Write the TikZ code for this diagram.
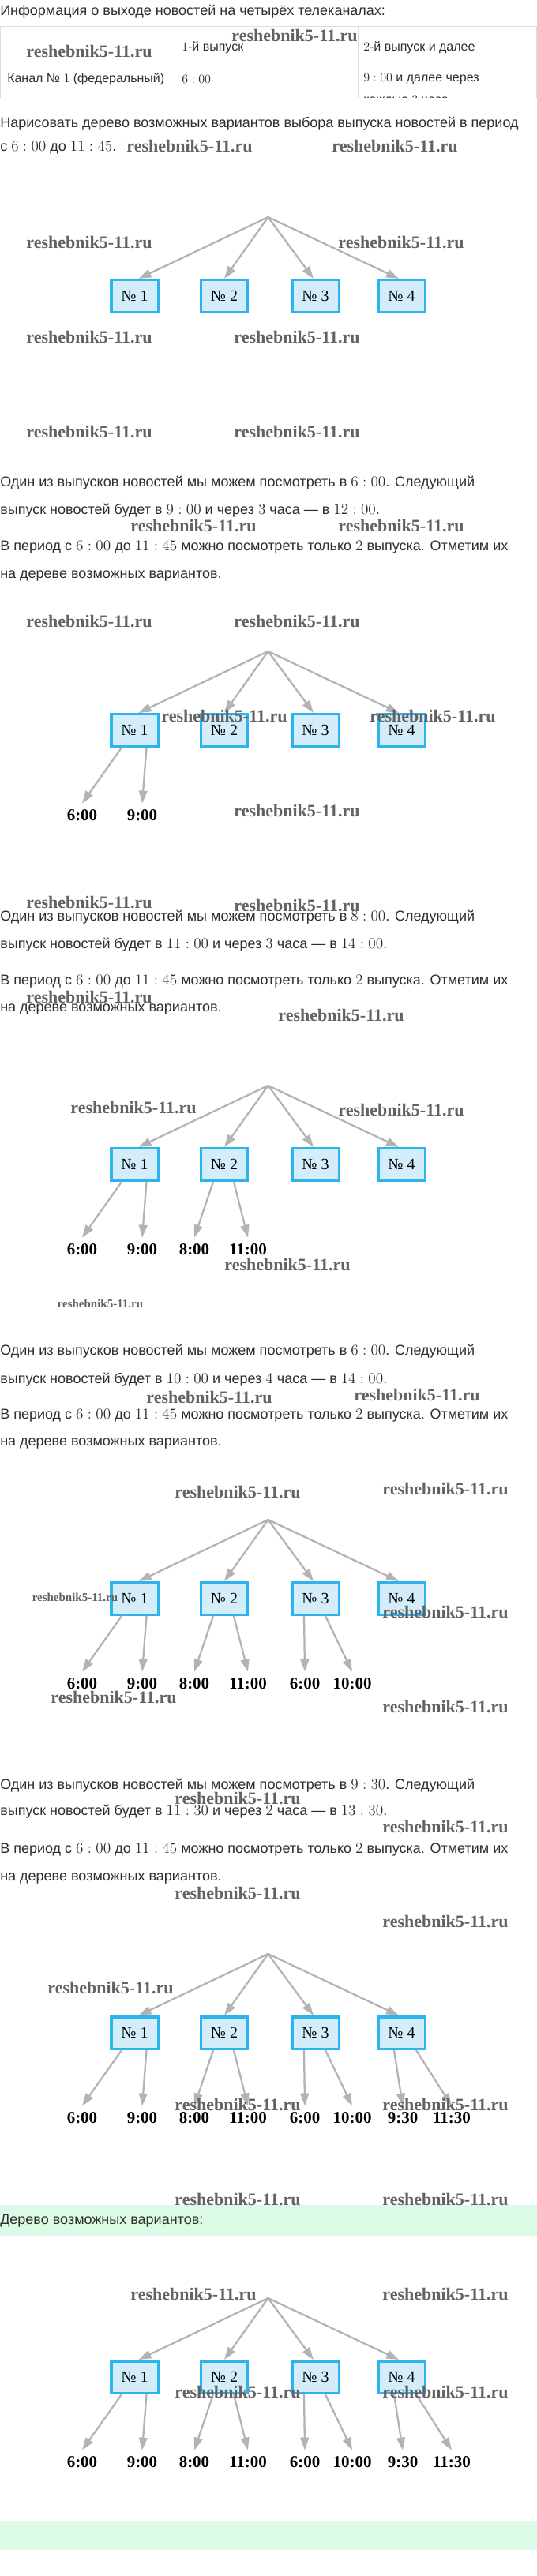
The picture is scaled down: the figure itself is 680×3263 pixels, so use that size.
\documentclass[tikz,border=0pt]{standalone}
\usepackage{fontspec}
\setmainfont{Liberation Serif}
\setsansfont{Liberation Sans}
\newfontfamily\tnr{Liberation Serif}
\usetikzlibrary{arrows.meta,calc}
\definecolor{txtc}{HTML}{2E2E2E}
\definecolor{arrc}{HTML}{B3B3B3}
\definecolor{boxfill}{HTML}{D3EEFA}
\definecolor{boxline}{HTML}{2DB4EE}
\definecolor{band}{HTML}{DCFBE7}
\definecolor{wm}{HTML}{626262}
\definecolor{gridc}{HTML}{DDDDDD}
\tikzset{
 txt/.style={anchor=west, inner sep=0pt, text=txtc, font=\fontsize{13.5pt}{16pt}\selectfont\sffamily},
 tbl/.style={anchor=west, inner sep=0pt, text=txtc, font=\fontsize{12pt}{14pt}\selectfont\sffamily},
 chbox/.style={draw=boxline, fill=boxfill, line width=2.6pt, minimum width=44.6pt, minimum height=30.4pt, inner sep=0pt, font=\fontsize{15pt}{17pt}\selectfont\tnr},
 arr/.style={draw=arrc, line width=1.7pt, -{Triangle[length=12pt,width=8pt]}},
 tlab/.style={inner xsep=0pt, inner ysep=6pt, font=\fontsize{15.75pt}{18pt}\selectfont\tnr\bfseries},
 wmark/.style={inner sep=0pt, text=wm, font=\fontsize{16.5pt}{18pt}\selectfont\tnr\bfseries},
 wsmall/.style={inner sep=0pt, text=wm, font=\fontsize{11.25pt}{13pt}\selectfont\tnr\bfseries},
 gline/.style={draw=gridc, line width=0.75pt},
}
\newcommand{\newstree}[2]{%
 \coordinate (#1r) at (339.5,#2);
 \node[chbox] (#1b1) at (170.5,#2+100) {№ 1};
 \node[chbox] (#1b2) at (284,#2+100) {№ 2};
 \node[chbox] (#1b3) at (399.5,#2+100) {№ 3};
 \node[chbox] (#1b4) at (508.5,#2+100) {№ 4};
 \draw[arr] (#1r) -- ($(#1b1.north)+(5,0)$);
 \draw[arr] (#1r) -- (#1b2.north);
 \draw[arr] (#1r) -- ($(#1b3.north)+(-2.5,0)$);
 \draw[arr] (#1r) -- ($(#1b4.north)+(-3.5,0)$);
}
\newcommand{\newsleaves}[9]{%
 \node[tlab] (#1l#2a) at (#6,#3+208) {#7};
 \node[tlab] (#1l#2b) at (#8,#3+208) {#9};
 \draw[arr] ($(#1b#2.south)+(#4,0)$) -- (#1l#2a.north);
 \draw[arr] ($(#1b#2.south)+(#5,0)$) -- (#1l#2b.north);
}
\begin{document}
\begin{tikzpicture}[x=0.75pt,y=-0.75pt]
\fill[white] (0,0) rectangle (680,3263);
\useasboundingbox (0,0) rectangle (680,3263);

% ---- header and table
\node[txt] (h1) at (0,15) {Информация о выходе новостей на четырёх телеканалах:};
\begin{scope}
\clip (0,30) rectangle (680,123);
\draw[gline] (0.5,33) -- (679.5,33);
\draw[gline] (0.5,78) -- (679.5,78);
\draw[gline] (0.5,33) -- (0.5,130);
\draw[gline] (225,33) -- (225,130);
\draw[gline] (453,33) -- (453,130);
\draw[gline] (679.5,33) -- (679.5,130);
\node[tbl] (c12) at (230,60) {\(1\)-й выпуск};
\node[tbl] (c13) at (460,60) {\(2\)-й выпуск и далее};
\node[tbl] (c21) at (9,100) {Канал № \(1\) (федеральный)};
\node[tbl] (c22) at (230,100) {\(6:00\)};
\node[tbl] (c23) at (460,100) {\(9:00\) и далее через};
\node[tbl] (c24) at (460,128) {каждые \(3\) часа};
\end{scope}
\node[txt] (h2) at (0,157) {Нарисовать дерево возможных вариантов выбора выпуска новостей в период};
\node[txt] (h3) at (0,187) {с \(6:00\) до \(11:45\).};

% ---- tree 1
\newstree{t1}{275}

% ---- paragraph 1
\node[txt] (p11) at (0,612) {Один из выпусков новостей мы можем посмотреть в \(6:00\). Следующий};
\node[txt] (p12) at (0,647) {выпуск новостей будет в \(9:00\) и через \(3\) часа — в \(12:00\).};
\node[txt] (p13) at (0,693) {В период с \(6:00\) до \(11:45\) можно посмотреть только \(2\) выпуска. Отметим их};
\node[txt] (p14) at (0,730) {на дереве возможных вариантов.};

% ---- tree 2
\newstree{t2}{825}
\newsleaves{t2}{1}{825}{-16.5}{15}{104}{6:00}{180}{9:00}

% ---- paragraph 2
\node[txt] (p21) at (0,1162) {Один из выпусков новостей мы можем посмотреть в \(8:00\). Следующий};
\node[txt] (p22) at (0,1197) {выпуск новостей будет в \(11:00\) и через \(3\) часа — в \(14:00\).};
\node[txt] (p23) at (0,1243) {В период с \(6:00\) до \(11:45\) можно посмотреть только \(2\) выпуска. Отметим их};
\node[txt] (p24) at (0,1279) {на дереве возможных вариантов.};

% ---- tree 3
\newstree{t3}{1375}
\newsleaves{t3}{1}{1375}{-16.5}{15}{104}{6:00}{180}{9:00}
\newsleaves{t3}{2}{1375}{-14}{12}{246}{8:00}{314}{11:00}

% ---- paragraph 3
\node[txt] (p31) at (0,1712) {Один из выпусков новостей мы можем посмотреть в \(6:00\). Следующий};
\node[txt] (p32) at (0,1748) {выпуск новостей будет в \(10:00\) и через \(4\) часа — в \(14:00\).};
\node[txt] (p33) at (0,1793) {В период с \(6:00\) до \(11:45\) можно посмотреть только \(2\) выпуска. Отметим их};
\node[txt] (p34) at (0,1828) {на дереве возможных вариантов.};

% ---- tree 4
\newstree{t4}{1925}
\newsleaves{t4}{1}{1925}{-16.5}{15}{104}{6:00}{180}{9:00}
\newsleaves{t4}{2}{1925}{-14}{12}{246}{8:00}{314}{11:00}
\newsleaves{t4}{3}{1925}{-14.5}{12.5}{386}{6:00}{446}{10:00}

% ---- paragraph 4
\node[txt] (p41) at (0,2262) {Один из выпусков новостей мы можем посмотреть в \(9:30\). Следующий};
\node[txt] (p42) at (0,2295) {выпуск новостей будет в \(11:30\) и через \(2\) часа — в \(13:30\).};
\node[txt] (p43) at (0,2343) {В период с \(6:00\) до \(11:45\) можно посмотреть только \(2\) выпуска. Отметим их};
\node[txt] (p44) at (0,2379) {на дереве возможных вариантов.};

% ---- tree 5
\newstree{t5}{2475}
\newsleaves{t5}{1}{2475}{-16.5}{15}{104}{6:00}{180}{9:00}
\newsleaves{t5}{2}{2475}{-14}{12}{246}{8:00}{314}{11:00}
\newsleaves{t5}{3}{2475}{-14.5}{12.5}{386}{6:00}{446}{10:00}
\newsleaves{t5}{4}{2475}{-9.5}{18.5}{510}{9:30}{572}{11:30}

% ---- answer band
\fill[band] (0,2793) rectangle (680,2832);
\node[txt] (ans) at (0,2813) {Дерево возможных вариантов:};

% ---- tree 6
\newstree{t6}{2911}
\newsleaves{t6}{1}{2911}{-16.5}{15}{104}{6:00}{180}{9:00}
\newsleaves{t6}{2}{2911}{-14}{12}{246}{8:00}{314}{11:00}
\newsleaves{t6}{3}{2911}{-14.5}{12.5}{386}{6:00}{446}{10:00}
\newsleaves{t6}{4}{2911}{-9.5}{18.5}{510}{9:30}{572}{11:30}

\fill[band] (0,3193) rectangle (680,3230);

% ---- watermarks
\foreach \wx/\wy [count=\wi] in {373/45, 113/65, 240/185, 500/185, 113/307, 508/307, 113/427, 376/427,
 113/547, 376/547, 245/666, 508/666, 113/787, 376/787, 284/907, 548/907, 376/1027,
 113/1143, 376/1147, 113/1263, 432/1286, 169/1403, 508/1406, 364/1602,
 265/1770, 528/1767, 301/1890, 564/1886, 564/2042, 144/2150, 564/2162,
 301/2278, 564/2314, 301/2398, 564/2434, 140/2518, 301/2666, 564/2666,
 301/2786, 564/2786, 245/2906, 564/2906, 301/3030, 564/3030}
 \node[wmark] (wm\wi) at (\wx,\wy) {reshebnik5-11.ru};
\node[wsmall] (ws1) at (127,1651) {reshebnik5-11.ru};
\node[wsmall] (ws2) at (95,2023) {reshebnik5-11.ru};
\end{tikzpicture}
\end{document}
